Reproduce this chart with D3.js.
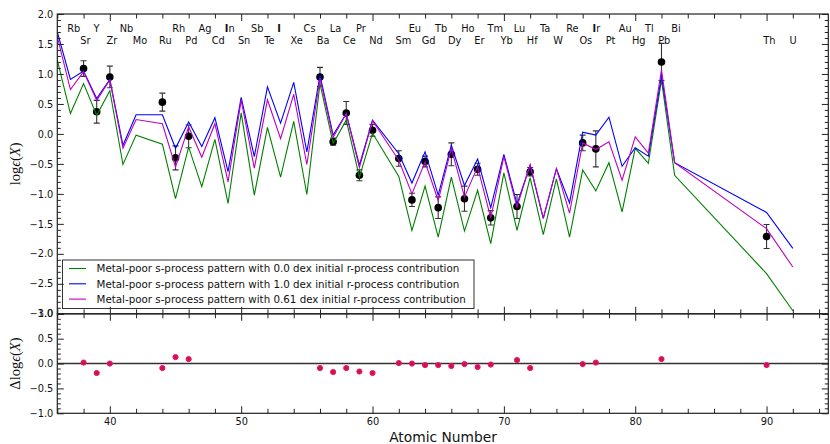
<!DOCTYPE html>
<html>
<head>
<meta charset="utf-8">
<script src="https://cdn.jsdelivr.net/npm/d3@7/dist/d3.min.js"></script>
<style>
  html, body { margin: 0; padding: 0; background: #fff; }
  svg { display: block; font-family: "DejaVu Sans", sans-serif; }
</style>
</head>
<body>
<svg id="chart" width="830" height="444"></svg>
<script>
// Model abundance patterns (log eps) at each atomic number
const modelZ = [36,37,38,39,40,41,42,44,45,46,47,48,49,50,51,52,53,54,55,56,57,58,59,60,
                62,63,64,65,66,67,68,69,70,71,72,73,74,75,76,77,78,79,80,81,82,83,90,92];
const rZero = [1.23,0.34,0.84,0.31,0.72,-0.51,-0.02,-0.17,-1.08,-0.22,-0.88,-0.09,-1.16,0.35,-1.02,0.11,-0.72,0.21,-1.01,0.84,-0.16,0.23,-0.72,0.01,
               -0.71,-1.61,-0.87,-1.72,-0.72,-1.62,-0.94,-1.83,-0.65,-1.61,-0.73,-1.68,-0.75,-1.72,-0.60,-0.95,-0.48,-1.30,-0.24,-0.49,0.90,-0.69,-2.33,-2.95];
const rOne = [1.70,0.91,1.05,0.59,0.91,-0.19,0.32,0.32,-0.24,0.20,-0.21,0.27,-0.63,0.61,-0.38,0.785,0.18,0.86,-0.30,0.98,-0.02,0.34,-0.52,0.23,
              -0.33,-0.82,-0.30,-1.02,-0.19,-0.86,-0.42,-1.23,-0.34,-1.17,-0.52,-1.41,-0.58,-1.15,0.03,-0.02,0.28,-0.54,-0.23,-0.37,0.97,-0.48,-1.31,-1.91];
const rBest = [1.62,0.74,1.04,0.56,0.90,-0.24,0.24,0.17,-0.55,0.12,-0.39,0.17,-0.80,0.56,-0.57,0.57,-0.08,0.66,-0.51,0.93,-0.06,0.34,-0.56,0.22,
               -0.44,-1.00,-0.47,-1.11,-0.24,-1.05,-0.55,-1.40,-0.38,-1.22,-0.51,-1.41,-0.58,-1.32,-0.15,-0.26,-0.13,-0.77,-0.05,-0.32,1.07,-0.48,-1.58,-2.22];

// Observed abundances with uncertainties, and residuals
const obsZ   = [38,39,40,44,45,46,56,57,58,59,60,62,63,64,65,66,67,68,69,71,72,76,77,82,90];
const obsVal = [1.09,0.37,0.95,0.53,-0.40,-0.04,0.95,-0.13,0.35,-0.69,0.06,-0.41,-1.10,-0.46,-1.23,-0.34,-1.08,-0.59,-1.40,-1.21,-0.63,-0.15,-0.25,1.20,-1.71];
const obsErr = [0.13,0.19,0.18,0.15,0.20,0.19,0.16,0.06,0.19,0.09,0.10,0.13,0.11,0.09,0.18,0.19,0.21,0.10,0.12,0.20,0.07,0.13,0.30,0.31,0.20];
const resid  = [0.02,-0.19,0.00,-0.09,0.13,0.09,-0.09,-0.17,-0.09,-0.16,-0.19,0.01,0.00,-0.03,-0.03,-0.05,-0.01,-0.07,-0.02,0.07,-0.09,-0.01,0.02,0.09,-0.03];

// Element symbols along the top of the upper panel
const elemZ   = [37,38,39,40,41,42,44,45,46,47,48,49,50,51,52,53,54,55,56,57,58,59,60,62,63,64,65,66,67,68,69,70,71,72,73,74,75,76,77,78,79,80,81,82,83,90,92];
const elemSym = ["Rb","Sr","Y","Zr","Nb","Mo","Ru","Rh","Pd","Ag","Cd","In","Sn","Sb","Te","I","Xe","Cs","Ba","La","Ce","Pr","Nd","Sm","Eu","Gd","Tb","Dy","Ho","Er","Tm","Yb","Lu","Hf","Ta","W","Re","Os","Ir","Pt","Au","Hg","Tl","Pb","Bi","Th","U"];

const legendLabels = [
  "Metal-poor s-process pattern with 0.0 dex initial r-process contribution",
  "Metal-poor s-process pattern with 1.0 dex initial r-process contribution",
  "Metal-poor s-process pattern with 0.61 dex initial r-process contribution"
];
const seriesColors = ["#008000", "#0000ff", "#bf00bf"];

const xTicks = [40,50,60,70,80,90];
const yTopTicks = [2.0,1.5,1.0,0.5,0.0,-0.5,-1.0,-1.5,-2.0,-2.5,-3.0];
const yBotTicks = [1.0,0.5,0.0,-0.5,-1.0];

const svg = d3.select("#chart");
const L = 57.3, R = 828.3, T1 = 14, B1 = 313.8, T2 = 313.8, B2 = 413.3;

const x = d3.scaleLinear().domain([36, 94.7]).range([L, R]);
const yT = d3.scaleLinear().domain([-3, 2]).range([B1, T1]);
const yB = d3.scaleLinear().domain([-1, 1]).range([B2, T2]);

const axisColor = "#222";
const fmt = d3.format(".1f");

function styleAxis(g) {
  g.select(".domain").remove();
  g.selectAll("line").attr("stroke", axisColor).attr("stroke-width", 1);
  g.selectAll("text").attr("fill", "#111").attr("font-size", "9.8px")
    .attr("font-family", "DejaVu Sans, sans-serif");
}

const xMinor = d3.range(36, 95, 2).filter(v => v % 10 !== 0);

function panelAxes(yScale, top, bottom, majors, minorRange, showX) {
  // left
  svg.append("g").attr("transform", `translate(${L},0)`)
    .call(d3.axisLeft(yScale).tickValues(majors).tickSize(-6.5).tickPadding(4).tickFormat(fmt)).call(styleAxis);
  svg.append("g").attr("transform", `translate(${L},0)`)
    .call(d3.axisLeft(yScale).tickValues(minorRange).tickSize(-3.5).tickFormat("")).call(styleAxis);
  // right
  svg.append("g").attr("transform", `translate(${R},0)`)
    .call(d3.axisRight(yScale).tickValues(majors).tickSize(-6.5).tickFormat("")).call(styleAxis);
  svg.append("g").attr("transform", `translate(${R},0)`)
    .call(d3.axisRight(yScale).tickValues(minorRange).tickSize(-3.5).tickFormat("")).call(styleAxis);
  // top
  svg.append("g").attr("transform", `translate(0,${top})`)
    .call(d3.axisTop(x).tickValues(xTicks).tickSize(-7).tickFormat("")).call(styleAxis);
  svg.append("g").attr("transform", `translate(0,${top})`)
    .call(d3.axisTop(x).tickValues(xMinor).tickSize(-4.5).tickFormat("")).call(styleAxis);
  // bottom
  svg.append("g").attr("transform", `translate(0,${bottom})`)
    .call(d3.axisBottom(x).tickValues(xTicks).tickSize(-7).tickPadding(4.5)
      .tickFormat(showX ? d3.format("d") : "")).call(styleAxis);
  svg.append("g").attr("transform", `translate(0,${bottom})`)
    .call(d3.axisBottom(x).tickValues(xMinor).tickSize(-4.5).tickFormat("")).call(styleAxis);
  // frame
  svg.append("rect").attr("x", L).attr("y", top).attr("width", R - L).attr("height", bottom - top)
    .attr("fill", "none").attr("stroke", axisColor).attr("stroke-width", 1.2);
}

const topMinor = d3.range(-30, 21).map(v => v / 10).filter(v => Math.abs(v * 2 - Math.round(v * 2)) > 1e-6);
const botMinor = d3.range(-10, 11).map(v => v / 10).filter(v => Math.abs(v * 2 - Math.round(v * 2)) > 1e-6);

// ---------- upper panel ----------
svg.append("clipPath").attr("id", "clipTop")
  .append("rect").attr("x", L).attr("y", T1).attr("width", R - L).attr("height", B1 - T1);

const plotTop = svg.append("g").attr("clip-path", "url(#clipTop)");

// observations: error bars and markers
const obs = obsZ.map((z, i) => ({ z, v: obsVal[i], e: obsErr[i] }));
const eb = plotTop.append("g").attr("stroke", "#333").attr("stroke-width", 1.1);
obs.forEach(d => {
  eb.append("line").attr("x1", x(d.z)).attr("x2", x(d.z)).attr("y1", yT(d.v - d.e)).attr("y2", yT(d.v + d.e));
  [d.v - d.e, d.v + d.e].forEach(v => {
    eb.append("line").attr("x1", x(d.z) - 3).attr("x2", x(d.z) + 3).attr("y1", yT(v)).attr("y2", yT(v));
  });
});
plotTop.append("g").selectAll("circle").data(obs).join("circle")
  .attr("cx", d => x(d.z)).attr("cy", d => yT(d.v)).attr("r", 3.8).attr("fill", "#000");

// model patterns
const line = d3.line().x(d => x(d[0])).y(d => yT(d[1]));
[rZero, rOne, rBest].forEach((vals, k) => {
  plotTop.append("path").datum(modelZ.map((z, i) => [z, vals[i]]))
    .attr("d", line).attr("fill", "none").attr("stroke", seriesColors[k]).attr("stroke-width", 1.1);
});

// element symbols: odd Z upper row, even Z lower row
const labG = svg.append("g").attr("font-size", "9.8px").attr("fill", "#111");
elemZ.forEach((z, i) => {
  const sym = elemSym[i];
  const t = labG.append("text").attr("x", x(z - 0.25)).attr("y", z % 2 ? 32 : 44);
  if (sym[0] === "I") {
    t.append("tspan").attr("font-weight", "bold").text("I");
    if (sym.length > 1) t.append("tspan").text(sym.slice(1));
  } else {
    t.text(sym);
  }
});

// legend
const lg = svg.append("g");
lg.append("rect").attr("x", 62.5).attr("y", 260).attr("width", 411.5).attr("height", 48.5)
  .attr("fill", "#fff").attr("stroke", "#333").attr("stroke-width", 1);
legendLabels.forEach((lab, i) => {
  const yy = 268.5 + i * 15.3;
  lg.append("line").attr("x1", 69).attr("x2", 86).attr("y1", yy).attr("y2", yy)
    .attr("stroke", seriesColors[i]).attr("stroke-width", 1.1);
  lg.append("text").attr("x", 96.5).attr("y", yy + 3.7).attr("font-size", "10.3px").attr("fill", "#111").text(lab);
});

panelAxes(yT, T1, B1, yTopTicks, topMinor, false);

// ---------- lower panel ----------
svg.append("line").attr("x1", L).attr("x2", R).attr("y1", yB(0)).attr("y2", yB(0))
  .attr("stroke", "#333").attr("stroke-width", 1.4);
svg.append("g").selectAll("circle").data(obsZ.map((z, i) => ({ z, r: resid[i] }))).join("circle")
  .attr("cx", d => x(d.z)).attr("cy", d => yB(d.r)).attr("r", 2.6)
  .attr("fill", "#c0107a").attr("stroke", "#ff1a3c").attr("stroke-width", 1);

panelAxes(yB, T2, B2, yBotTicks, botMinor, true);

// axis titles
svg.append("text").attr("x", 443).attr("y", 442).attr("text-anchor", "middle")
  .attr("font-size", "13.8px").attr("fill", "#111").text("Atomic Number");

function yTitle(cy, prefix) {
  const t = svg.append("text").attr("transform", `translate(20,${cy}) rotate(-90)`)
    .attr("text-anchor", "middle").attr("font-family", "Liberation Serif, serif")
    .attr("font-size", "14.5px").attr("fill", "#111");
  t.append("tspan").text(prefix + "log");
  t.append("tspan").attr("font-style", "italic").text("ϵ");
  t.append("tspan").text("(");
  t.append("tspan").attr("font-style", "italic").text("X");
  t.append("tspan").text(")");
}
yTitle((T1 + B1) / 2, "");
yTitle((T2 + B2) / 2, "Δ");
</script>
</body>
</html>
